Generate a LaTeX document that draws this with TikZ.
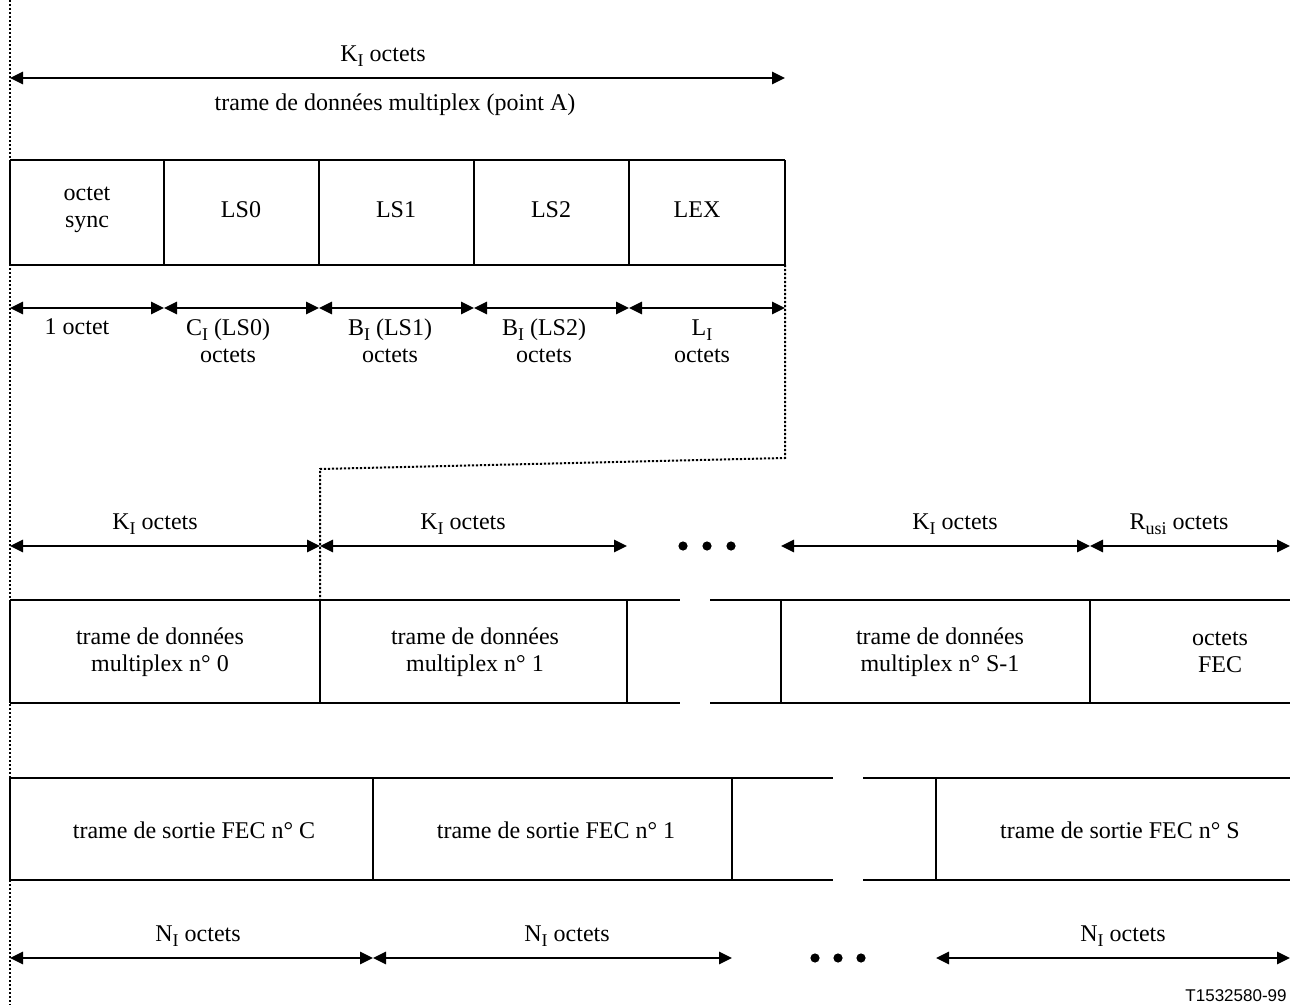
\documentclass[tikz,border=0pt]{standalone}
\usepackage{fontspec}
\setmainfont{Liberation Serif}
\newfontfamily\footfont{Liberation Sans}
\usetikzlibrary{arrows.meta}
\newcommand{\lowsub}[1]{\raisebox{-2.6pt}{\fontsize{9}{9}\selectfont #1}}
\begin{document}
\begin{tikzpicture}[x=0.5pt,y=-0.5pt,
  lbl/.style={font=\fontsize{12}{13.5}\selectfont, inner sep=0pt, align=center},
  dim/.style={{Triangle[length=6.5pt,width=6pt]}-{Triangle[length=6.5pt,width=6pt]}, line width=1.4pt},
  box/.style={line width=0.9pt},
  guide/.style={line width=1pt, dash pattern=on 1.1pt off 0.9pt},
  dotmark/.style={circle, fill, inner sep=0pt, minimum size=4.6pt}]
\useasboundingbox (0,0) rectangle (1290,1005);

% ---------- top frame ----------
\coordinate (tA) at (10,78); \coordinate (tB) at (785,78);
\draw[dim] (tA) -- (tB);
\node[lbl] (kTop) at (383,56) {K\lowsub{I} octets};
\node[lbl] (trameA) at (395,105) {trame de données multiplex (point A)};

\foreach \x [count=\i] in {10,164,319,474,629,785} {
  \coordinate (ut\i) at (\x,160); \coordinate (ub\i) at (\x,265);
  \coordinate (ua\i) at (\x,308);
}
\draw[box] (ut1) -- (ut6) (ub1) -- (ub6);
\foreach \i in {1,...,5} \draw[box] (ut\i) -- (ub\i);
\draw[box] (ut6) -- (ub6);

\node[lbl] (sync) at (87,210) {octet\\sync};
\node[lbl] (ls0) at (241,210) {LS0};
\node[lbl] (ls1) at (396,210) {LS1};
\node[lbl] (ls2) at (551,210) {LS2};
\node[lbl] (lex) at (697,210) {LEX};

\draw[dim] (ua1) -- (ua2);
\draw[dim] (ua2) -- (ua3);
\draw[dim] (ua3) -- (ua4);
\draw[dim] (ua4) -- (ua5);
\draw[dim] (ua5) -- (ua6);
\node[lbl] (o1) at (77,327) {1 octet};
\node[lbl] (c0) at (228,341) {C\lowsub{I} (LS0)\\octets};
\node[lbl] (b1) at (390,341) {B\lowsub{I} (LS1)\\octets};
\node[lbl] (b2) at (544,341) {B\lowsub{I} (LS2)\\octets};
\node[lbl] (li) at (702,341) {L\lowsub{I}\\octets};

% ---------- guides ----------
\coordinate (gTop) at (10,0); \coordinate (gBot) at (10,1005);
\draw[guide] (gTop) -- (gBot);
\coordinate (g1) at (785,458); \coordinate (g2) at (320,469);
\coordinate (mt2) at (320,600);
\draw[guide] (ub6) -- (g1) -- (g2) -- (mt2);

% ---------- middle row ----------
\foreach \x [count=\i] in {10,320,627,781,1090} {
  \coordinate (mt\i) at (\x,600); \coordinate (mb\i) at (\x,703);
  \coordinate (ma\i) at (\x,546);
}
\coordinate (mtg1) at (680,600); \coordinate (mtg2) at (710,600);
\coordinate (mbg1) at (680,703); \coordinate (mbg2) at (710,703);
\coordinate (mtR) at (1290,600); \coordinate (mbR) at (1290,703);
\coordinate (maR) at (1290,546);
\draw[box] (mt1) -- (mtg1) (mtg2) -- (mtR);
\draw[box] (mb1) -- (mbg1) (mbg2) -- (mbR);
\foreach \i in {1,...,5} \draw[box] (mt\i) -- (mb\i);

\draw[dim] (ma1) -- (ma2);
\draw[dim] (ma2) -- (ma3);
\draw[dim] (ma4) -- (ma5);
\draw[dim] (ma5) -- (maR);
\node[lbl] (k1) at (155,524) {K\lowsub{I} octets};
\node[lbl] (k2) at (463,524) {K\lowsub{I} octets};
\node[lbl] (k3) at (955,524) {K\lowsub{I} octets};
\node[lbl] (rusi) at (1179,524) {R\lowsub{usi} octets};
\node[dotmark] (md1) at (683,546) {};
\node[dotmark] (md2) at (707,546) {};
\node[dotmark] (md3) at (731,546) {};

\node[lbl] (m0) at (160,652) {trame de données\\multiplex n° 0};
\node[lbl] (m1) at (475,652) {trame de données\\multiplex n° 1};
\node[lbl] (ms) at (940,652) {trame de données\\multiplex n° S-1};
\node[lbl] (fec) at (1220,652) {octets\\FEC};

% ---------- bottom row ----------
\foreach \x [count=\i] in {10,373,732,936} {
  \coordinate (bt\i) at (\x,778); \coordinate (bb\i) at (\x,880);
  \coordinate (ba\i) at (\x,958);
}
\coordinate (btg1) at (833,778); \coordinate (btg2) at (863,778);
\coordinate (bbg1) at (833,880); \coordinate (bbg2) at (863,880);
\coordinate (btR) at (1290,778); \coordinate (bbR) at (1290,880);
\coordinate (baR) at (1290,958);
\draw[box] (bt1) -- (btg1) (btg2) -- (btR);
\draw[box] (bb1) -- (bbg1) (bbg2) -- (bbR);
\foreach \i in {1,...,4} \draw[box] (bt\i) -- (bb\i);

\node[lbl] (f0) at (194,830) {trame de sortie FEC n° C};
\node[lbl] (f1) at (556,830) {trame de sortie FEC n° 1};
\node[lbl] (fs) at (1120,830) {trame de sortie FEC n° S};

\draw[dim] (ba1) -- (ba2);
\draw[dim] (ba2) -- (ba3);
\draw[dim] (ba4) -- (baR);
\node[lbl] (n1) at (198,936) {N\lowsub{I} octets};
\node[lbl] (n2) at (567,936) {N\lowsub{I} octets};
\node[lbl] (n3) at (1123,936) {N\lowsub{I} octets};
\node[dotmark] (bd1) at (815,958) {};
\node[dotmark] (bd2) at (838,958) {};
\node[dotmark] (bd3) at (861,958) {};

\node[font=\footfont\fontsize{8.5}{10}\selectfont, inner sep=0pt, anchor=south east] (ref) at (1287,1002) {T1532580-99};
\end{tikzpicture}
\end{document}
